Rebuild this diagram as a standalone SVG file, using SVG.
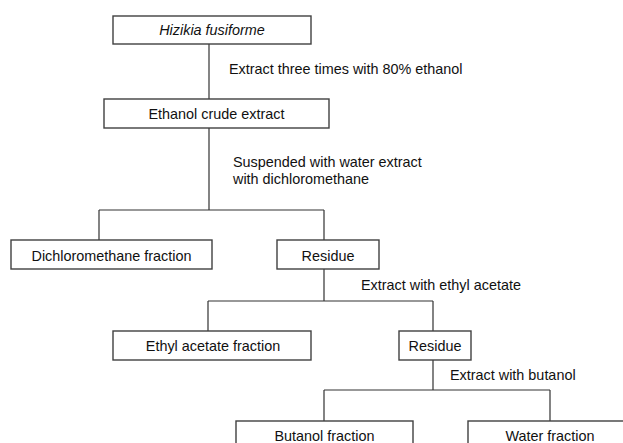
<svg xmlns="http://www.w3.org/2000/svg" width="623" height="443" viewBox="0 0 623 443">
<style>
.box{fill:#fff;stroke:#404040;stroke-width:1.4}
.ln{fill:none;stroke:#333;stroke-width:1.2}
text{font-family:"Liberation Sans",Arial,sans-serif;font-size:14.4px;fill:#111}
.c{text-anchor:middle}
</style>
<rect width="623" height="443" fill="#fff"/>
<g id="connectors">
<path class="ln" d="M209 44V99"/>
<path class="ln" d="M209 128V210M99 210H324M99 210V240M324 210V240"/>
<path class="ln" d="M324 269V301M208 301H433M208 301V331M433 301V331"/>
<path class="ln" d="M433 360V390M324 390H550M324 390V421M550 390V421"/>
</g>
<g id="labels">
<text x="229" y="74">Extract three times with 80% ethanol</text>
<text x="233" y="167">Suspended with water extract</text>
<text x="233" y="184">with dichloromethane</text>
<text x="361" y="290">Extract with ethyl acetate</text>
<text x="450" y="380">Extract with butanol</text>
</g>
<g id="n-hizikia"><rect class="box" x="113" y="16" width="198" height="28"/><text class="c" x="212" y="35" font-style="italic">Hizikia fusiforme</text></g>
<g id="n-ethanol"><rect class="box" x="104" y="99" width="225" height="29"/><text class="c" x="216.5" y="118.5">Ethanol crude extract</text></g>
<g id="n-dcm"><rect class="box" x="11" y="240" width="201" height="29"/><text class="c" x="111.5" y="260.5">Dichloromethane fraction</text></g>
<g id="n-residue1"><rect class="box" x="277" y="240" width="102" height="29"/><text class="c" x="328" y="260.5">Residue</text></g>
<g id="n-ethyl"><rect class="box" x="113" y="331" width="198" height="29"/><text class="c" x="213" y="351">Ethyl acetate fraction</text></g>
<g id="n-residue2"><rect class="box" x="399" y="331" width="72" height="29"/><text class="c" x="435" y="351">Residue</text></g>
<g id="n-butanol"><rect class="box" x="236" y="421" width="177" height="29"/><text class="c" x="324.5" y="441">Butanol fraction</text></g>
<g id="n-water"><rect class="box" x="468" y="421" width="164" height="29"/><text class="c" x="550" y="441">Water fraction</text></g>
</svg>
